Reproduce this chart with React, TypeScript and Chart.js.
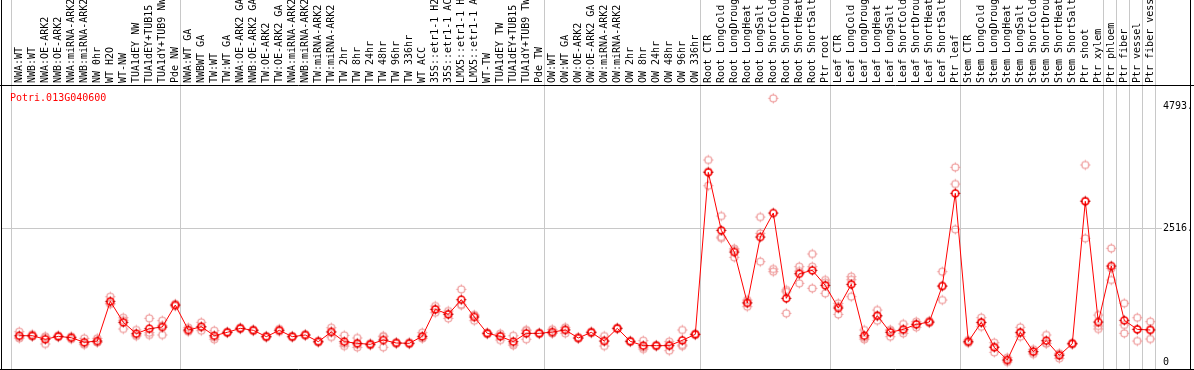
import React, { useEffect, useRef } from "react";
import { Chart, registerables } from "chart.js";

Chart.register(...registerables);

const categories: string[] = [
  "NWA:WT", "NWB:WT", "NWA:OE-ARK2", "NWB:OE-ARK2", "NWA:miRNA-ARK2", "NWB:miRNA-ARK2", "NW 0hr", "WT H2O", "WT-NW", "TUA1dEY NW", "TUA1dEY+TUB15 NW", "TUA1dY+TUB9 NW", "Pde NW",
  "NWA:WT GA", "NWBWT GA", "TW:WT", "TW:WT GA", "NWA:OE-ARK2 GA", "NWB:OE-ARK2 GA", "TW:OE-ARK2", "TW:OE-ARK2 GA", "NWA:miRNA-ARK2", "NWB:miRNA-ARK2", "TW:miRNA-ARK2", "TW:miRNA-ARK2", "TW 2hr", "TW 8hr", "TW 24hr", "TW 48hr", "TW 96hr", "TW 336hr", "WT ACC", "35S::etr1-1 H2O", "35S::etr1-1 ACC", "LMX5::etr1-1 H2O", "LMX5::etr1-1 ACC", "WT-TW", "TUA1dEY TW", "TUA1dEY+TUB15 TW", "TUA1dY+TUB9 TW", "Pde TW",
  "OW:WT", "OW:WT GA", "OW:OE-ARK2", "OW:OE-ARK2 GA", "OW:miRNA-ARK2", "OW:miRNA-ARK2", "OW 2hr", "OW 8hr", "OW 24hr", "OW 48hr", "OW 96hr", "OW 336hr",
  "Root CTR", "Root LongCold", "Root LongDrought", "Root LongHeat", "Root LongSalt", "Root ShortCold", "Root ShortDrought", "Root ShortHeat", "Root ShortSalt", "Ptr root",
  "Leaf CTR", "Leaf LongCold", "Leaf LongDrought", "Leaf LongHeat", "Leaf LongSalt", "Leaf ShortCold", "Leaf ShortDrought", "Leaf ShortHeat", "Leaf ShortSalt", "Ptr leaf",
  "Stem CTR", "Stem LongCold", "Stem LongDrought", "Stem LongHeat", "Stem LongSalt", "Stem ShortCold", "Stem ShortDrought", "Stem ShortHeat", "Stem ShortSalt", "Ptr shoot",
  "Ptr xylem", "Ptr phloem", "Ptr fiber", "Ptr vessel", "Ptr fiber vessel",
];

const meanValues: number[] = [
  494, 494, 426, 482, 456, 370, 394, 1139, 745, 532, 626, 657, 1070,
  601, 663, 494, 557, 632, 595, 476, 595, 476, 507, 382, 563, 382, 351, 332, 413, 357, 351, 482, 989, 895, 1170, 845, 538, 482, 382, 538, 538,
  563, 601, 451, 557, 394, 632, 388, 307, 307, 307, 407, 519,
  3561, 2472, 2065, 1108, 2347, 2797, 1195, 1658, 1721, 1439,
  1014, 1458, 494, 870, 557, 613, 707, 751, 1427, 3167,
  382, 745, 276, 38, 557, 194, 401, 125, 344, 3017,
  751, 1802, 782, 613, 601,
];

const rep1: number[] = [
  569, 520, 457, 500, 482, 444, 444, 1226, 832, 601, 820, 776, 1090,
  645, 745, 588, 570, 650, 610, 490, 620, 490, 520, 400, 644, 501, 451, 350, 488, 370, 370, 551, 1051, 957, 1364, 883, 555, 532, 494, 601, 550,
  613, 651, 465, 575, 488, 645, 400, 401, 320, 382, 601, 535,
  3793, 2741, 2128, 1164, 2722, 4951, 1352, 1790, 2028, 1540,
  1101, 1603, 601, 976, 476, 714, 757, 770, 1696, 3655,
  413, 833, 363, 81, 651, 238, 507, 163, 360, 3699,
  882, 2134, 1102, 832, 757,
];

const rep2: number[] = [
  444, 480, 338, 470, 430, 340, 370, 1102, 620, 507, 507, 507, 1050,
  570, 588, 426, 545, 620, 580, 460, 570, 465, 495, 370, 469, 300, 275, 310, 276, 345, 335, 450, 926, 820, 1070, 776, 520, 413, 313, 426, 525,
  540, 538, 440, 540, 300, 620, 375, 244, 295, 213, 300, 505,
  3310, 2347, 1965, 1039, 2416, 1746, 914, 1477, 1790, 1289,
  894, 1227, 426, 776, 590, 538, 651, 735, 1164, 3342,
  360, 663, 181, 0, 476, 150, 350, 69, 330, 2322,
  676, 1759, 695, 394, 432,
];

const rep3: number[] = [
  469, 482, 482, 476, 456, 326, 368, 1089, 783, 488, 551, 688, 1070,
  588, 656, 468, 556, 626, 595, 478, 595, 473, 506, 376, 576, 345, 327, 336, 475, 356, 348, 445, 990, 908, 1076, 876, 539, 501, 339, 587, 539,
  536, 614, 448, 556, 394, 631, 389, 276, 306, 326, 320, 517,
  3580, 2328, 2102, 1121, 1884, 1696, 1319, 1707, 1383, 1489,
  1047, 1545, 455, 858, 605, 587, 713, 748, 1421, 2491,
  373, 739, 284, 33, 544, 194, 346, 143, 342, 3030,
  620, 1540, 538, 613, 614,
];

const yTickValues: number[] = [0, 2516, 4793];
const yTickLabels: string[] = ["0", "2516.", "4793."];
const groupBoundaries: number[] = [0, 13, 41, 53, 63, 73, 84, 85, 86, 87, 88];
const geneName = "Potri.013G040600";
const yMax = 5032;

const FONT = '"DejaVu Sans Mono", "Liberation Mono", monospace';

function makeMarker(color: string, tickColor: string, lw: number): HTMLCanvasElement {
  const c = document.createElement("canvas");
  c.width = 13;
  c.height = 13;
  const g = c.getContext("2d")!;
  g.strokeStyle = color;
  g.lineWidth = lw;
  g.beginPath();
  g.arc(6.5, 6.5, 3.5, 0, Math.PI * 2);
  g.stroke();
  g.strokeStyle = tickColor;
  g.lineWidth = 1;
  g.beginPath();
  g.moveTo(6.5, 1.5); g.lineTo(6.5, 3.5);
  g.moveTo(6.5, 9.5); g.lineTo(6.5, 11.5);
  g.moveTo(1.5, 6.5); g.lineTo(3.5, 6.5);
  g.moveTo(9.5, 6.5); g.lineTo(11.5, 6.5);
  g.stroke();
  return c;
}

const framePlugin = {
  id: "frameGrid",
  beforeDatasetsDraw(chart: any) {
    const { ctx, scales } = chart;
    const xs = scales.x;
    const ys = scales.y;
    const p0 = xs.getPixelForValue(0);
    const step = (xs.getPixelForValue(categories.length - 1) - p0) / (categories.length - 1);
    ctx.save();
    ctx.strokeStyle = "#c8c8c8";
    ctx.lineWidth = 1;
    ctx.beginPath();
    groupBoundaries.forEach((k) => {
      const x = Math.round(p0 + (k - 0.64) * step) + 0.5;
      ctx.moveTo(x, 0);
      ctx.lineTo(x, 370);
    });
    const gy = Math.round(ys.getPixelForValue(2516)) + 0.5;
    ctx.moveTo(2, gy);
    ctx.lineTo(1162, gy);
    ctx.stroke();
    ctx.restore();
  },
  afterDraw(chart: any) {
    const { ctx } = chart;
    ctx.save();
    ctx.strokeStyle = "#000";
    ctx.lineWidth = 1;
    ctx.beginPath();
    ctx.moveTo(1.5, 0); ctx.lineTo(1.5, 370);
    ctx.moveTo(1190.5, 0); ctx.lineTo(1190.5, 370);
    ctx.moveTo(0, 85.5); ctx.lineTo(1194, 85.5);
    ctx.moveTo(0, 369.5); ctx.lineTo(1194, 369.5);
    ctx.stroke();
    ctx.fillStyle = "#ff0000";
    ctx.font = `10px ${FONT}`;
    ctx.textBaseline = "alphabetic";
    ctx.textAlign = "left";
    ctx.fillText(geneName, 10, 101);
    ctx.restore();
  },
};

export default function App() {
  const ref = useRef<HTMLCanvasElement | null>(null);

  useEffect(() => {
    if (!ref.current) return;
    const mainMarker = makeMarker("#ff0000", "#b00000", 1.6);
    const paleMarker = makeMarker("#ee9999", "#ee9999", 1.2);
    const repDataset = (data: number[]) => ({
      data,
      showLine: false,
      pointStyle: paleMarker,
      pointRadius: 5,
      borderColor: "#ee9999",
      backgroundColor: "transparent",
      clip: false as any,
    });
    const chart = new Chart(ref.current, {
      type: "line",
      data: {
        labels: categories,
        datasets: [
          {
            data: meanValues,
            borderColor: "#ff0000",
            borderWidth: 1,
            pointStyle: mainMarker,
            pointRadius: 5,
            backgroundColor: "transparent",
            tension: 0,
            clip: false as any,
          },
          repDataset(rep1),
          repDataset(rep2),
          repDataset(rep3),
        ],
      },
      plugins: [framePlugin],
      options: {
        animation: false,
        responsive: false,
        layout: { padding: { left: 19.3, right: 0, top: 0, bottom: 8 } },
        plugins: { legend: { display: false }, tooltip: { enabled: false }, title: { display: false } },
        scales: {
          x: {
            type: "category",
            position: "top",
            offset: false,
            grid: { display: false, drawTicks: false },
            border: { display: false },
            ticks: {
              autoSkip: false,
              maxRotation: 90,
              minRotation: 90,
              padding: 11,
              labelOffset: 12.5,
              color: "#000",
              font: { family: FONT, size: 10 },
            },
            afterFit: (s: any) => {
              s.height = 94;
              s.paddingLeft = 0;
              s.paddingRight = 0;
            },
          },
          y: {
            type: "linear",
            position: "right",
            min: 0,
            max: yMax,
            grid: { display: false, drawTicks: false },
            border: { display: false },
            afterBuildTicks: (s: any) => {
              s.ticks = yTickValues.map((v) => ({ value: v }));
            },
            ticks: {
              padding: 12.7,
              color: "#000",
              font: { family: FONT, size: 10 },
              callback: (v: any) => yTickLabels[yTickValues.indexOf(Number(v))] ?? "",
            },
            afterFit: (s: any) => {
              s.width = 43.7;
              s.paddingTop = 0;
              s.paddingBottom = 0;
            },
          },
        },
      },
    });
    return () => chart.destroy();
  }, []);

  return (
    <div style={{ position: "fixed", left: 0, top: 0, width: 1194, height: 370, background: "#fff" }}>
      <canvas ref={ref} width={1194} height={370} style={{ display: "block", width: 1194, height: 370 }} />
    </div>
  );
}
